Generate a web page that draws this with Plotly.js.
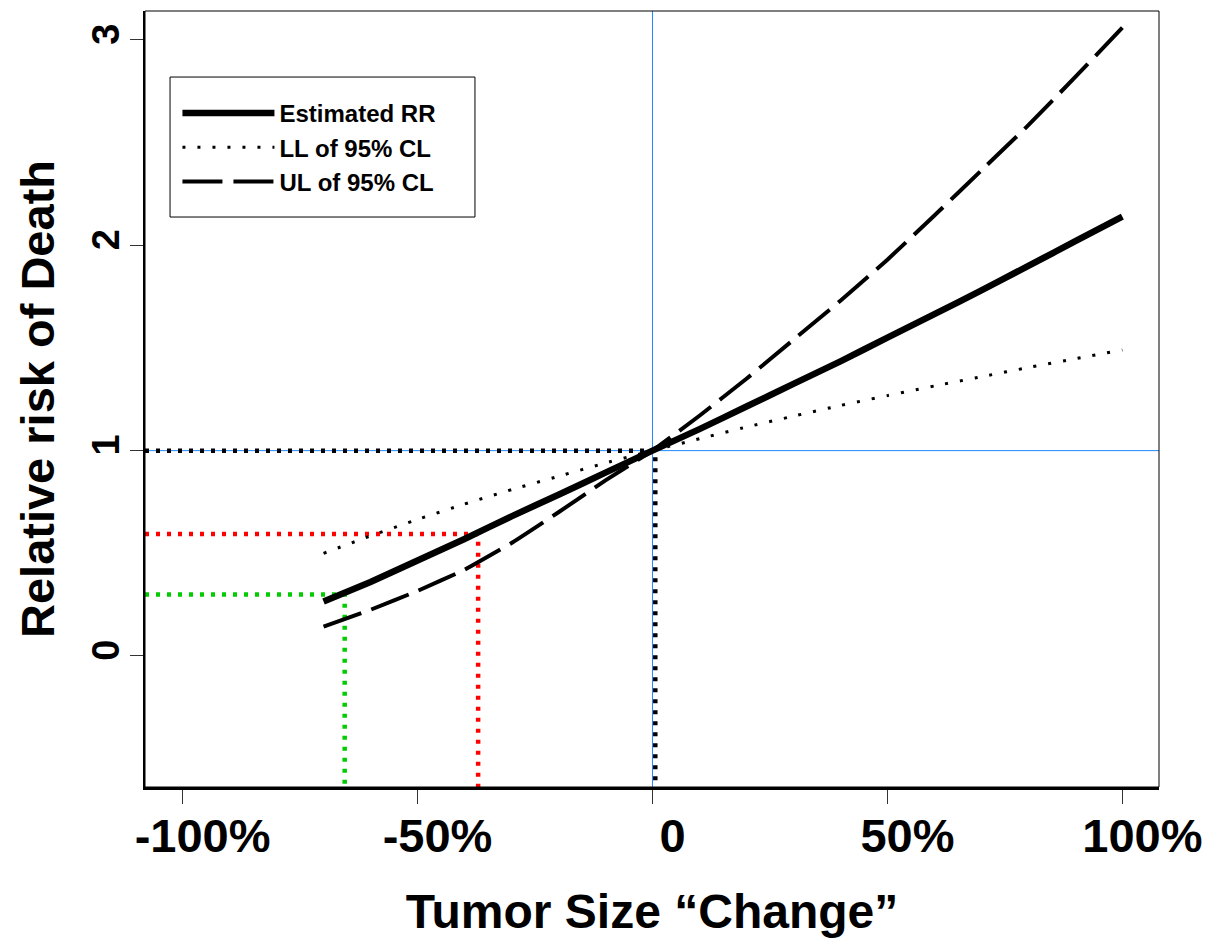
<!DOCTYPE html>
<html>
<head>
<meta charset="utf-8">
<script src="https://cdn.plot.ly/plotly-3.0.1.min.js"></script>
<style>html,body{margin:0;padding:0;background:#fff;}#chart{width:1220px;height:938px;}</style>
</head>
<body>
<div id="chart"></div>
<script>
// Tumor size change (%) at which the curves are read
const tumorChange = [-70,-60,-50,-40,-30,-20,-10,0,10,20,30,40,50,60,70,80,90,100];
// Estimated relative risk of death
const estimatedRR = [0.265,0.36,0.465,0.57,0.68,0.785,0.893,1.0,1.105,1.215,1.325,1.435,1.55,1.665,1.78,1.9,2.02,2.14];
// Lower limit of 95% CL
const lowerCL = [0.50,0.585,0.665,0.74,0.81,0.875,0.94,1.0,1.058,1.115,1.168,1.22,1.268,1.315,1.36,1.405,1.448,1.49];
// Upper limit of 95% CL
const upperCL = [0.143,0.225,0.317,0.42,0.55,0.70,0.855,1.0,1.17,1.35,1.54,1.73,1.93,2.145,2.365,2.585,2.82,3.06];

// Reference drop lines: (change, RR) points
const refChange = [0.6, -37.1, -65.5];
const refRR = [1.0, 0.594, 0.30];
const refColors = ['#000000', '#ff0000', '#00cc00'];

const seriesNames = ['Estimated RR', 'LL of 95% CL', 'UL of 95% CL'];
const xTickVals = [-100, -50, 0, 50, 100];
const xTickText = ['-100%', '-50%', '0', '50%', '100%'];
const yTickVals = [0, 1, 2, 3];

const xRange = [-108, 107.8];
const yRange = [-0.638, 3.141];

const FONT = 'Liberation Sans, Arial, Helvetica, sans-serif';

const traces = [];
// reference dotted lines
for (let i = 0; i < refChange.length; i++) {
  traces.push({
    x: [xRange[0], refChange[i], refChange[i]],
    y: [refRR[i], refRR[i], yRange[0]],
    mode: 'lines',
    line: {color: refColors[i], width: 4.5, dash: '4px,7px'},
    showlegend: false,
    hoverinfo: 'skip'
  });
}
traces.push({
  x: tumorChange, y: estimatedRR, name: seriesNames[0], mode: 'lines',
  line: {color: '#000', width: 6.5, shape: 'spline', smoothing: 0.3}
});
traces.push({
  x: tumorChange, y: lowerCL, name: seriesNames[1], mode: 'lines',
  line: {color: '#000', width: 3, dash: '3px,12px', shape: 'spline', smoothing: 0.3}
});
traces.push({
  x: tumorChange, y: upperCL, name: seriesNames[2], mode: 'lines',
  line: {color: '#000', width: 4, dash: '40px,11px', shape: 'spline', smoothing: 0.3}
});

const layout = {
  width: 1220, height: 938,
  margin: {l: 145, r: 61, t: 11, b: 151},
  paper_bgcolor: '#fff', plot_bgcolor: '#fff',
  font: {family: FONT, color: '#000'},
  showlegend: true,
  legend: {
    x: 0.032, y: 0.897, xanchor: 'left', yanchor: 'top',
    bgcolor: 'rgba(0,0,0,0)', borderwidth: 0,
    font: {family: FONT, size: 24, weight: 700, color: '#000'},
    itemwidth: 92, tracegroupgap: 0
  },
  xaxis: {
    range: xRange, tickvals: xTickVals, ticktext: xTickText,
    ticks: 'outside', ticklen: 14, tickwidth: 1, tickcolor: '#333',
    ticklabelstandoff: -8, ticklabelshift: 20,
    showgrid: false, zeroline: false, showline: true, linewidth: 3, linecolor: '#000',
    tickfont: {family: FONT, size: 47, weight: 700, color: '#000'},
    title: {text: 'Tumor Size “Change”', font: {family: FONT, size: 48, weight: 700, color: '#000'}, standoff: 36}
  },
  yaxis: {
    range: yRange, tickvals: yTickVals, tickangle: -90,
    ticks: 'outside', ticklen: 13, tickwidth: 1, tickcolor: '#333',
    ticklabelstandoff: -5,
    showgrid: false, zeroline: false, showline: true, linewidth: 2.5, linecolor: '#000',
    tickfont: {family: FONT, size: 38, weight: 700, color: '#000'},
    title: {text: 'Relative risk of Death', font: {family: FONT, size: 47, weight: 700, color: '#000'}, standoff: 16}
  },
  shapes: [
    {type: 'line', xref: 'paper', yref: 'y', x0: 0, x1: 1, y0: 1, y1: 1, line: {color: '#1E88FF', width: 1}, layer: 'below'},
    {type: 'line', xref: 'x', yref: 'paper', x0: 0, x1: 0, y0: 0, y1: 1, line: {color: '#1E88FF', width: 1}, layer: 'below'},
    {type: 'rect', xref: 'paper', yref: 'paper', x0: 0, x1: 1, y0: 0, y1: 1, line: {color: '#000', width: 1}, layer: 'above'},
    {type: 'rect', xref: 'paper', yref: 'paper', x0: 0.0247, x1: 0.3254, y0: 0.7345, y1: 0.9149, line: {color: '#000', width: 1}, layer: 'above'}
  ]
};

Plotly.newPlot('chart', traces, layout, {staticPlot: true, displayModeBar: false});
</script>
</body>
</html>
